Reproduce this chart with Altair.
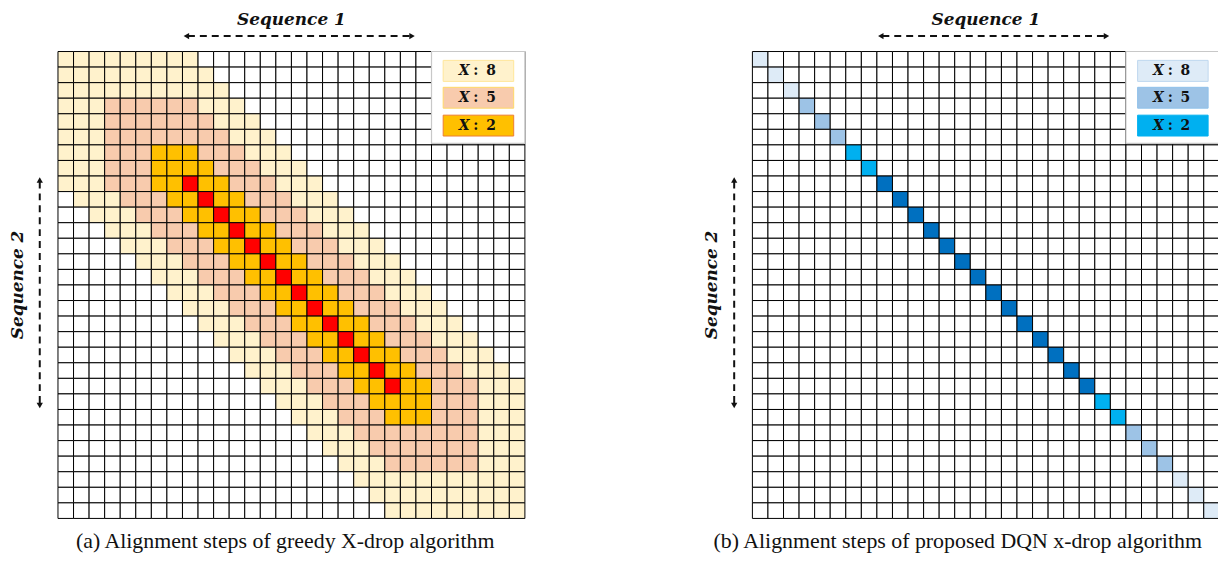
import altair as alt
import pandas as pd

# ---------------- data ----------------
# Panel (a): state of every cell, row by row (30 x 30)
# "." empty, "L" = X:8 band, "S" = X:5 band, "O" = X:2 band, "R" = alignment path
greedy_rows = [
    "LLLLL" "LLLL." "....." "....." "....." ".....",
    "LLLLL" "LLLLL" "....." "....." "....." ".....",
    "LLLLL" "LLLLL" "L...." "....." "....." ".....",
    "LLLSS" "SSSSL" "LL..." "....." "....." ".....",
    "LLLSS" "SSSSS" "LLL.." "....." "....." ".....",
    "LLLSS" "SSSSS" "SLLL." "....." "....." ".....",
    "LLLSS" "SOOOS" "SSLLL" "....." "....." ".....",
    "LLLSS" "SOOOO" "SSSLL" "L...." "....." ".....",
    "LLLSS" "SOORO" "OSSSL" "LL..." "....." ".....",
    ".LLLS" "SSOOR" "OOSSS" "LLL.." "....." ".....",
    "..LLL" "SSSOO" "ROOSS" "SLLL." "....." ".....",
    "...LL" "LSSSO" "OROOS" "SSLLL" "....." ".....",
    "....L" "LLSSS" "OOROO" "SSSLL" "L...." ".....",
    "....." "LLLSS" "SOORO" "OSSSL" "LL..." ".....",
    "....." ".LLLS" "SSOOR" "OOSSS" "LLL.." ".....",
    "....." "..LLL" "SSSOO" "ROOSS" "SLLL." ".....",
    "....." "...LL" "LSSSO" "OROOS" "SSLLL" ".....",
    "....." "....L" "LLSSS" "OOROO" "SSSLL" "L....",
    "....." "....." "LLLSS" "SOORO" "OSSSL" "LL...",
    "....." "....." ".LLLS" "SSOOR" "OOSSS" "LLL..",
    "....." "....." "..LLL" "SSSOO" "ROOSS" "SLLL.",
    "....." "....." "...LL" "LSSSO" "OROOS" "SSLLL",
    "....." "....." "....L" "LLSSS" "OOOOS" "SSLLL",
    "....." "....." "....." "LLLSS" "SOOOS" "SSLLL",
    "....." "....." "....." ".LLLS" "SSSSS" "SSLLL",
    "....." "....." "....." "..LLL" "SSSSS" "SSLLL",
    "....." "....." "....." "...LL" "LSSSS" "SSLLL",
    "....." "....." "....." "....L" "LLLLL" "LLLLL",
    "....." "....." "....." "....." "LLLLL" "LLLLL",
    "....." "....." "....." "....." ".LLLL" "LLLLL",
]
for s in greedy_rows:
    assert len(s) == 30, s

# Panel (b): only the diagonal cells are coloured (row i, column i)
# "L" = X:8, "M" = X:5, "B" = X:2, "D" = alignment path
dqn_diagonal = "LLLMMMBBDDDDDDDDDDDDDDBBMMMLLL"

state_codes = ["A.", "AL", "AS", "AO", "AR", "B.", "BL", "BM", "BB", "BD"]
state_colors = ["#FFFFFF", "#FFF2CC", "#F8CBAD", "#FFC000", "#FF0000",
                "#FFFFFF", "#DEEBF7", "#9DC3E6", "#00B0F0", "#0070C0"]

legend_digits = ["8", "5", "2"]
legend_fill_a = ["#FFF2CC", "#F8CBAD", "#FFC000"]
legend_edge_a = ["#FFE699", "#FFD966", "#ED7D31"]
legend_fill_b = ["#DEEBF7", "#9DC3E6", "#00B0F0"]
legend_edge_b = ["#BDD7EE", "#8FC1EA", "#00B0F0"]

captions = ["(a) Alignment steps of greedy X-drop algorithm",
            "(b) Alignment steps of proposed DQN x-drop algorithm"]
seq1_label = "Sequence 1"
seq2_label = "Sequence 2"

# ---------------- layout (cell units) ----------------
N = 30
OFF_B = 44.617          # horizontal offset of panel (b) grid, in cells
xs = alt.Scale(domain=[-3.2106, 74.532], nice=False, zero=False)
ys = alt.Scale(domain=[-2.6808, 32.1705], nice=False, zero=False, reverse=True)

# ---------------- tables ----------------
cells = []
for r, s in enumerate(greedy_rows):
    for c, ch in enumerate(s):
        cells.append({"x": c, "x2": c + 1, "row": r, "row2": r + 1, "code": "A" + ch})
for r in range(N):
    for c in range(N):
        ch = dqn_diagonal[r] if c == r else "."
        cells.append({"x": c + OFF_B, "x2": c + 1 + OFF_B, "row": r, "row2": r + 1,
                      "code": "B" + ch})
cells = pd.DataFrame(cells)

offsets = [0.0, OFF_B]
box = pd.DataFrame([{"x": 24 + o, "x2": 30 + o, "row": 0, "row2": 5.9} for o in offsets])

sw_y = [(0.57, 1.92), (2.30, 3.64), (4.09, 5.43)]
sw = []
lab = []
for o, fills, edges in [(0.0, legend_fill_a, legend_edge_a), (OFF_B, legend_fill_b, legend_edge_b)]:
    for i, d in enumerate(legend_digits):
        y0, y1 = sw_y[i]
        sw.append({"x": 24.75 + o, "x2": 29.28 + o, "row": y0, "row2": y1,
                   "fill": fills[i], "stroke": edges[i]})
        yc = (y0 + y1) / 2
        lab.append({"x": 26.09 + o, "row": yc, "t": "X", "kind": "var"})
        lab.append({"x": 26.85 + o, "row": yc, "t": ":", "kind": "num"})
        lab.append({"x": 27.82 + o, "row": yc, "t": d, "kind": "num"})
sw = pd.DataFrame(sw)
lab = pd.DataFrame(lab)

seq1 = pd.DataFrame([{"x": 15.0 + o, "row": -1.72, "t": seq1_label} for o in offsets])
seq2 = pd.DataFrame([{"x": -2.25 + o, "row": 15.0, "t": seq2_label} for o in offsets])
harrow = pd.DataFrame([{"x": 8.35 + o, "x2": 22.65 + o, "row": -0.99} for o in offsets])
hheads = pd.DataFrame([{"x": 8.25 + o, "row": -0.99, "shape": "triangle-left"} for o in offsets]
                      + [{"x": 22.75 + o, "row": -0.99, "shape": "triangle-right"} for o in offsets])
varrow = pd.DataFrame([{"x": -1.17 + o, "row": 8.35, "row2": 22.65} for o in offsets])
vheads = pd.DataFrame([{"x": -1.17 + o, "row": 8.25, "shape": "triangle-up"} for o in offsets]
                      + [{"x": -1.17 + o, "row": 22.75, "shape": "triangle-down"} for o in offsets])
caps = pd.DataFrame([{"x": 14.6, "row": 31.88, "t": captions[0]},
                     {"x": 13.19 + OFF_B, "row": 31.88, "t": captions[1]}])

X = lambda f="x": alt.X(f + ":Q", scale=xs, axis=None)
Y = lambda f="row": alt.Y(f + ":Q", scale=ys, axis=None)

grid = alt.Chart(cells).mark_rect(stroke="#000000", strokeWidth=1).encode(
    x=X(), x2="x2:Q", y=Y(), y2="row2:Q",
    color=alt.Color("code:N", scale=alt.Scale(domain=state_codes, range=state_colors), legend=None),
)
box_l = alt.Chart(box).mark_rect(fill="white", stroke="#C8C8C8", strokeWidth=1.2).encode(
    x=X(), x2="x2:Q", y=Y(), y2="row2:Q")
sw_l = alt.Chart(sw).mark_rect(strokeWidth=1).encode(
    x=X(), x2="x2:Q", y=Y(), y2="row2:Q",
    fill=alt.Fill("fill:N", scale=None), stroke=alt.Stroke("stroke:N", scale=None))
lab_var = alt.Chart(lab[lab.kind == "var"]).mark_text(
    font="DejaVu Serif", fontSize=14, fontWeight="bold", fontStyle="italic",
    color="#111111", align="center", baseline="middle").encode(x=X(), y=Y(), text="t:N")
lab_num = alt.Chart(lab[lab.kind == "num"]).mark_text(
    font="DejaVu Serif", fontSize=14, fontWeight="bold",
    color="#111111", align="center", baseline="middle").encode(x=X(), y=Y(), text="t:N")

seq1_l = alt.Chart(seq1).mark_text(
    font="DejaVu Serif", fontSize=17, fontWeight="bold", fontStyle="italic",
    color="#111111", align="center", baseline="alphabetic").encode(x=X(), y=Y(), text="t:N")
seq2_l = alt.Chart(seq2).mark_text(
    font="DejaVu Serif", fontSize=17, fontWeight="bold", fontStyle="italic", angle=270,
    color="#111111", align="center", baseline="alphabetic").encode(x=X(), y=Y(), text="t:N")
harrow_l = alt.Chart(harrow).mark_rule(color="#111111", strokeWidth=2, strokeDash=[7, 5]).encode(
    x=X(), x2="x2:Q", y=Y())
varrow_l = alt.Chart(varrow).mark_rule(color="#111111", strokeWidth=2, strokeDash=[7, 5]).encode(
    x=X(), y=Y(), y2="row2:Q")
heads = alt.Chart(pd.concat([hheads, vheads])).mark_point(
    filled=True, size=40, color="#111111", opacity=1).encode(
    x=X(), y=Y(), shape=alt.Shape("shape:N", scale=None))
caps_l = alt.Chart(caps).mark_text(
    font="Liberation Serif", fontSize=22, color="#111111",
    align="center", baseline="alphabetic").encode(x=X(), y=Y(), text="t:N")

chart = alt.layer(
    grid, box_l, sw_l, lab_var, lab_num, seq1_l, seq2_l, harrow_l, varrow_l, heads, caps_l
).properties(
    width=1218, height=546, padding=0,
    autosize=alt.AutoSizeParams(type="none"),
).configure_view(stroke=None)

chart.save("out.html", embed_options={"renderer": "svg", "actions": False})
